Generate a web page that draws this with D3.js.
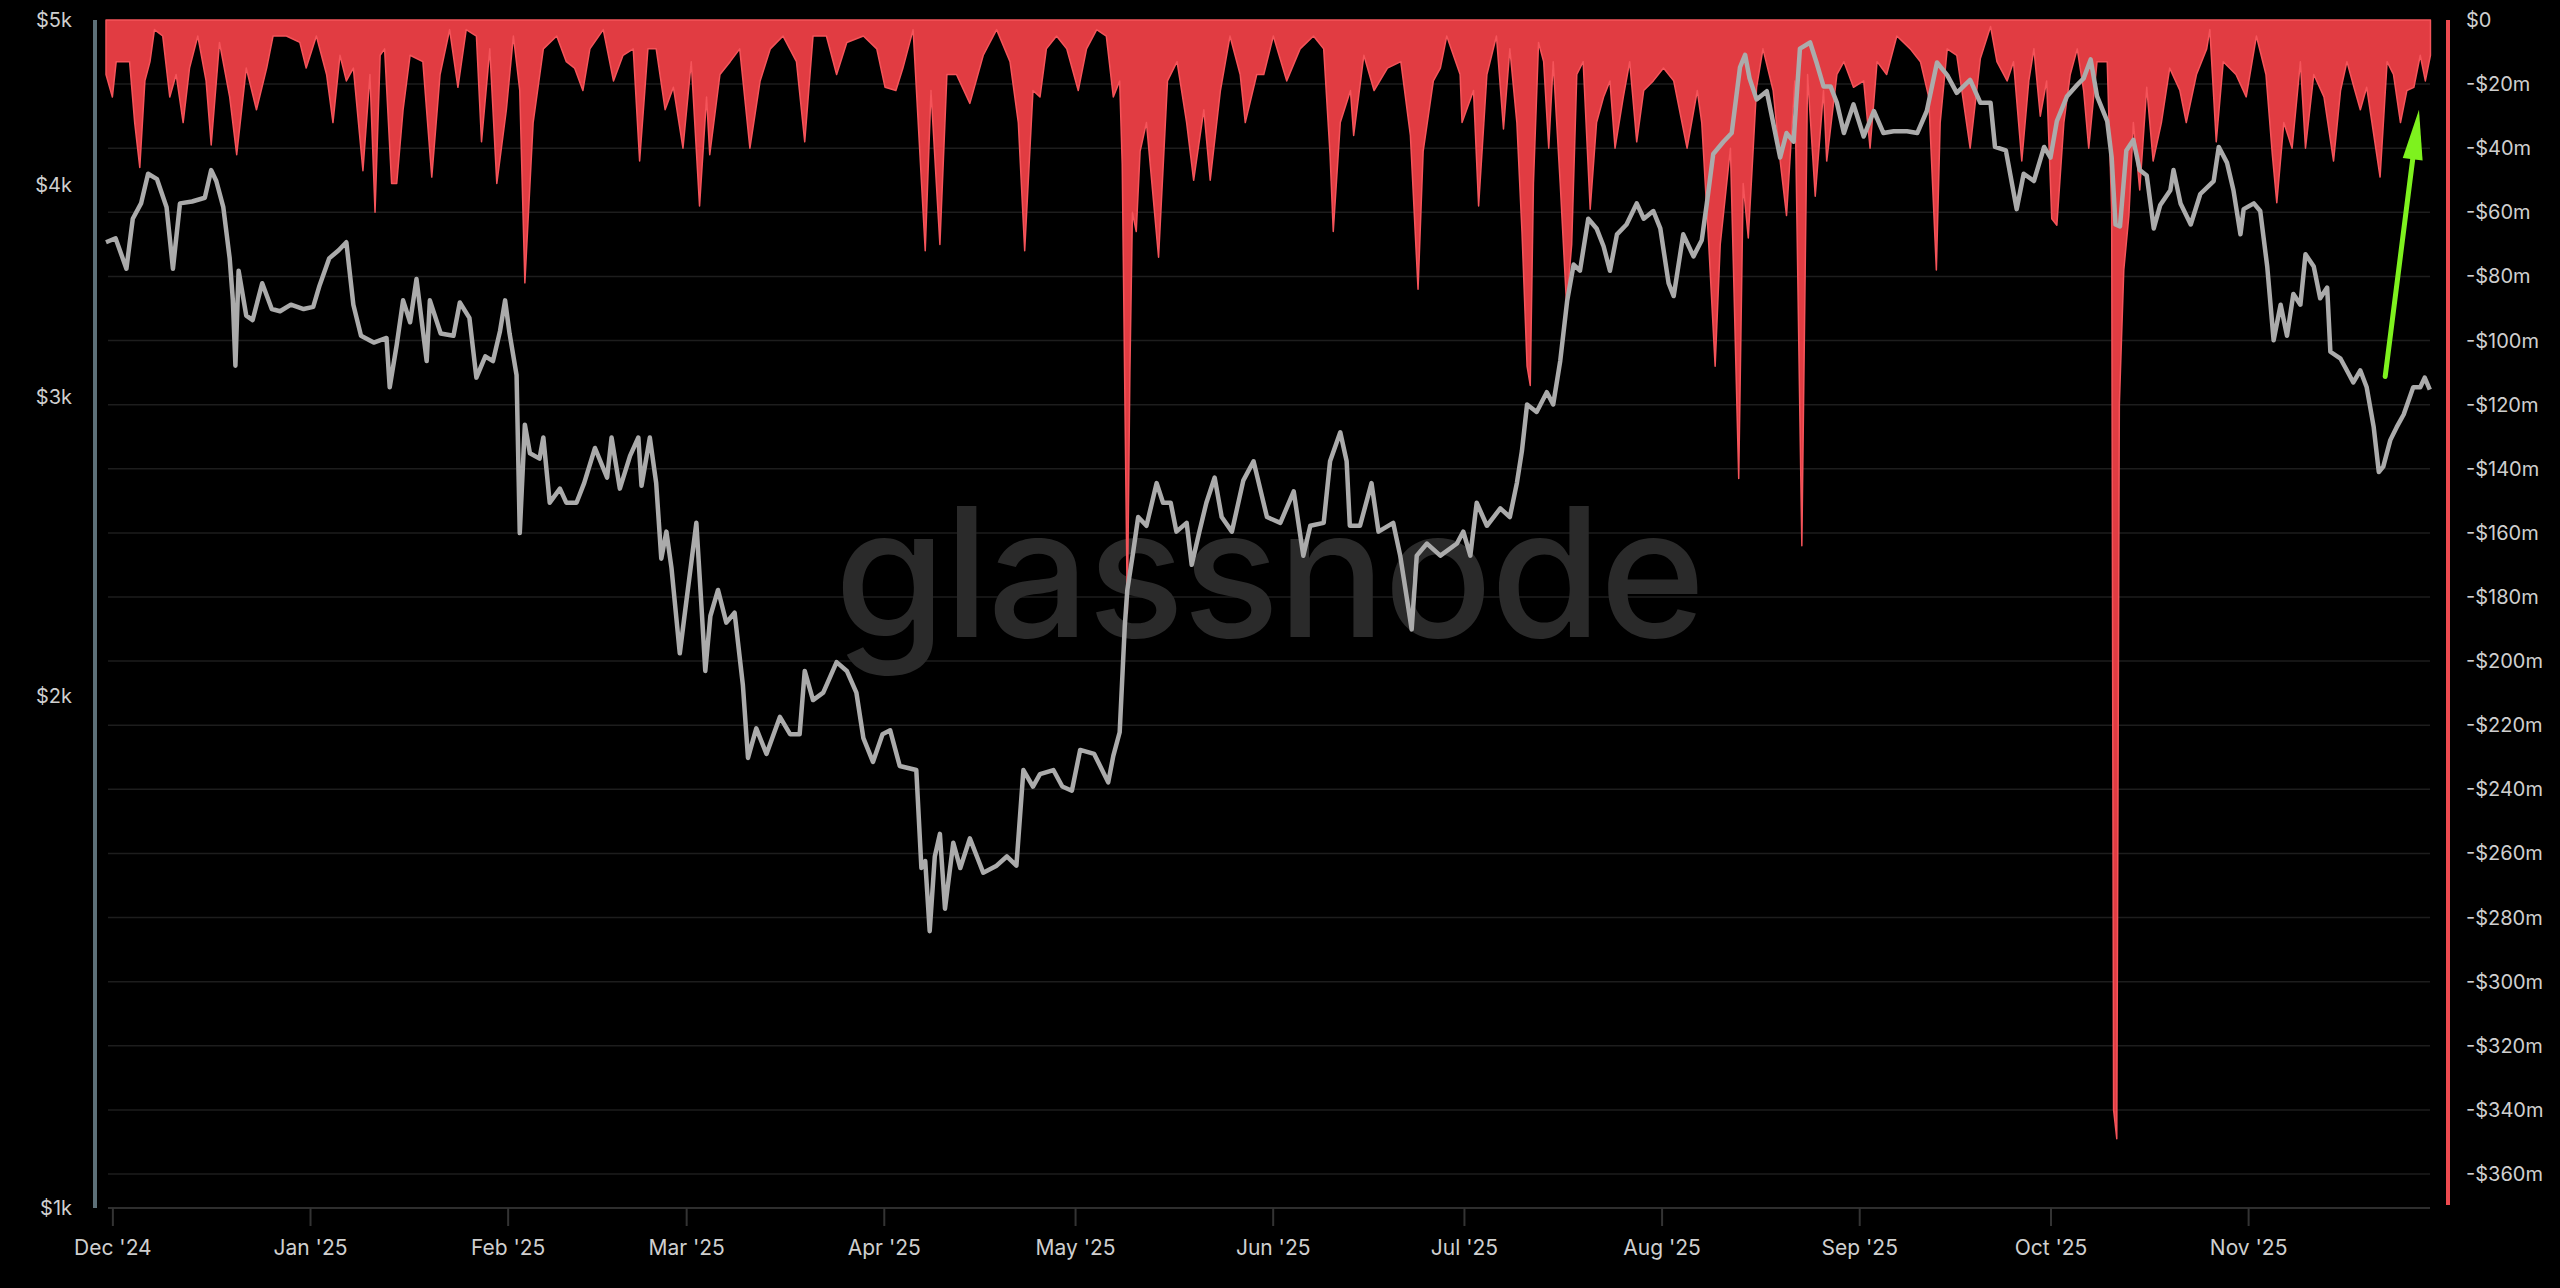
<!DOCTYPE html>
<html>
<head>
<meta charset="utf-8">
<script src="https://cdn.jsdelivr.net/npm/d3@7"></script>
<style>
  html, body { margin: 0; padding: 0; background: #000; }
  svg { display: block; }
  .lbl { font-family: Inter, "Noto Sans", sans-serif; font-size: 20px; fill: #cfcfcf; }
  .x.axis text { font-family: Inter, "Noto Sans", sans-serif; font-size: 21px; fill: #cfcfcf; }
  .x.axis line { stroke: #333; stroke-width: 2; }
</style>
</head>
<body>
<div id="chart"></div>
<script>
// day offsets are counted from 2024-11-30 (UTC)
var startDate = Date.UTC(2024, 10, 30);

// ETH price, USD  [day, value]
var priceData = [
  [0,3700],[1.5,3720],[3.2,3570],[4.2,3820],[5.5,3900],[6.6,4060],[8,4030],[9.5,3880],[10.5,3570],[11.6,3900],
  [13.5,3910],[15.5,3930],[16.5,4080],[17.3,4020],[18.4,3880],[19.4,3620],[19.9,3420],[20.3,3130],[20.8,3560],[22,3350],
  [23,3330],[24.5,3500],[26,3380],[27.3,3370],[29,3400],[31,3380],[32.5,3390],[33.5,3490],[35,3620],[36.5,3660],
  [37.7,3700],[38.8,3400],[40,3260],[42,3230],[44,3250],[44.5,3040],[45.6,3220],[46.6,3420],[47.7,3320],[48.7,3520],
  [50.3,3150],[50.8,3420],[52.5,3270],[54.5,3260],[55.5,3410],[57,3340],[58.1,3080],[59.5,3170],[60.7,3150],[61.8,3280],
  [62.6,3420],[63.3,3270],[64.4,3090],[64.9,2495],[65.7,2890],[66.5,2780],[68,2760],[68.6,2840],[69.6,2600],[71.2,2650],
  [72.2,2600],[73.8,2600],[75,2670],[76.7,2800],[78.6,2690],[79.3,2840],[80.6,2650],[82.2,2770],[83.5,2840],[84,2660],
  [85.3,2840],[86.3,2670],[87.1,2410],[87.9,2500],[88.7,2380],[90,2120],[91,2270],[92.6,2530],[93.4,2260],[94,2070],
  [94.8,2230],[96,2310],[97.3,2210],[98.6,2240],[99.9,2030],[100.7,1840],[102,1915],[103.6,1850],[105.7,1945],[107.3,1900],
  [108.8,1900],[109.6,2070],[110.9,1990],[112.5,2010],[114.6,2095],[116.2,2070],[117.7,2010],[118.8,1890],[120.3,1830],[121.8,1900],
  [123,1910],[124.5,1820],[127.1,1810],[127.9,1585],[128.5,1600],[129.2,1455],[130,1610],[130.8,1660],[131.6,1500],[132.9,1640],
  [134,1585],[135.5,1650],[137.6,1575],[139.7,1590],[141.3,1610],[142.8,1590],[143.9,1810],[145.4,1770],[146.5,1800],[148.6,1810],
  [150,1770],[151.5,1760],[152.8,1860],[155,1850],[157.2,1780],[158,1845],[159,1905],[159.8,2200],[160.2,2310],[161.1,2430],
  [161.9,2550],[163.2,2520],[164.8,2670],[165.8,2600],[167,2600],[167.9,2500],[169.5,2530],[170.3,2390],[171.5,2500],[172.6,2600],
  [173.9,2690],[175,2550],[176.6,2500],[178.4,2680],[180,2750],[182.1,2550],[184.2,2530],[186.3,2640],[187.8,2420],[188.9,2520],
  [191,2530],[192,2750],[193.6,2860],[194.6,2750],[195.1,2520],[196.7,2520],[198.5,2670],[199.6,2500],[201.9,2530],[203,2420],
  [204,2290],[204.8,2190],[205.6,2420],[207.2,2460],[209.3,2420],[211.9,2460],[212.9,2500],[214,2420],[215,2600],[216.6,2520],
  [218.7,2580],[220.2,2550],[221.3,2670],[222.1,2790],[222.9,2970],[224.4,2940],[226,3020],[227,2970],[228.1,3150],[229.2,3420],
  [230.2,3590],[231.2,3560],[232.5,3820],[233.8,3770],[234.9,3680],[235.9,3560],[237,3740],[238.5,3790],[240.1,3900],[241.2,3820],
  [242.7,3860],[243.8,3770],[245.1,3500],[245.9,3440],[247.4,3740],[249,3630],[250.3,3710],[251.1,3900],[252.1,4170],[253.7,4240],
  [255,4290],[256.3,4690],[257.1,4770],[257.8,4620],[258.9,4490],[260.5,4540],[261.5,4350],[262.6,4150],[263.6,4290],[264.7,4240],
  [265.7,4810],[267.3,4850],[268.3,4720],[269.4,4570],[270.5,4570],[271.5,4470],[272.6,4290],[274.1,4460],[275.7,4270],[277.3,4420],
  [278.8,4290],[280.4,4300],[282.5,4300],[284.1,4290],[285.6,4420],[287.2,4720],[288.8,4640],[290.3,4530],[292.4,4610],[294,4470],
  [295.6,4470],[296.3,4210],[298,4190],[299.7,3870],[300.8,4060],[302.4,4020],[304,4210],[305,4150],[306,4360],[307.6,4510],
  [309.2,4580],[310.2,4620],[311.3,4740],[312.3,4510],[313.9,4360],[314.6,4150],[315.2,3790],[315.9,3780],[316.9,4190],[318,4250],
  [319,4080],[320.1,4050],[321.2,3770],[322.2,3890],[323.8,3970],[324.3,4080],[325.4,3900],[327,3790],[328.5,3950],[330.6,4020],
  [331.4,4210],[332.7,4120],[333.7,3970],[334.8,3740],[335.3,3870],[336.9,3900],[337.9,3860],[339,3580],[340,3240],[341.1,3400],
  [342.1,3260],[343.1,3450],[344.2,3400],[345,3640],[346.3,3580],[347.3,3430],[348.4,3480],[348.9,3190],[350.5,3160],[351.5,3110],
  [352.5,3060],[353.6,3110],[354.6,3040],[355.7,2880],[356.5,2710],[357.2,2730],[358.3,2830],[359.3,2880],[360.4,2930],[361.9,3040],
  [363,3040],[363.7,3080],[364.5,3030]
];

// realized loss, USD millions  [day, value]
var lossData = [
  [0,-17],[1,-24],[1.6,-13],[2.7,-13],[3.7,-13],[4.5,-32],[5.3,-46],[6.1,-19],[6.9,-13],[7.6,-3],
  [8.9,-5],[10,-24],[11,-17],[12.1,-32],[13.1,-15],[14.4,-5],[15.7,-19],[16.5,-39],[17.8,-7],[19.4,-24],
  [20.5,-42],[22,-15],[23.6,-28],[25.2,-15],[26.2,-5],[28.3,-5],[30.4,-7],[31.4,-15],[33,-5],[34.6,-17],
  [35.6,-32],[36.7,-11],[37.7,-19],[38.8,-15],[40.3,-47],[41.4,-17],[42.2,-60],[43,-11],[43.7,-9],[44.8,-51],
  [45.6,-51],[46.6,-28],[47.7,-11],[49.7,-13],[51.1,-49],[52.4,-17],[53.9,-3],[55.2,-21],[56.5,-3],[58.1,-5],
  [58.9,-38],[60.2,-9],[61.3,-51],[62.8,-28],[63.9,-5],[64.9,-22],[65.7,-82],[67,-32],[68.6,-9],[70.7,-5],
  [72.2,-13],[73.5,-15],[74.8,-22],[75.9,-9],[78,-3],[79.6,-19],[81.1,-11],[82.7,-9],[83.7,-44],[85,-9],
  [86.3,-9],[87.7,-28],[89,-21],[90.5,-40],[91.8,-13],[93.1,-58],[94.2,-24],[94.7,-42],[96.3,-17],[97.9,-13],
  [99.4,-9],[101,-40],[102.6,-19],[104.2,-9],[106.2,-5],[108.3,-13],[109.6,-38],[110.9,-5],[113,-5],[114.6,-17],
  [116.2,-7],[118.8,-5],[120.9,-9],[122.2,-21],[123.9,-22],[125,-15],[126.6,-3],[128.5,-72],[129.4,-22],[130.8,-70],
  [131.9,-17],[133.4,-17],[135.5,-26],[137.6,-11],[139.7,-3],[141.8,-13],[143.1,-32],[144.1,-72],[145.4,-22],[146.5,-24],
  [147.5,-9],[149.1,-5],[150.7,-9],[152.5,-22],[153.8,-9],[155.4,-3],[156.9,-5],[158,-24],[159,-19],[159.4,-45],
  [159.8,-115],[160.2,-185],[160.6,-110],[161,-60],[161.6,-66],[162.2,-41],[163.2,-32],[165.1,-74],[166.5,-19],[168,-13],
  [169.5,-32],[170.6,-50],[172.2,-28],[173.2,-50],[174.8,-22],[176.3,-5],[177.9,-17],[178.7,-32],[180.5,-17],[181.6,-17],
  [183.1,-5],[185.2,-19],[187.3,-9],[189.4,-5],[191,-9],[192,-42],[192.5,-66],[193.6,-32],[195.2,-22],[195.7,-36],
  [197.3,-11],[198.9,-22],[201,-15],[203.1,-13],[204.6,-36],[205.8,-84],[206.6,-41],[208.2,-19],[209.3,-15],[210.3,-5],
  [212.4,-17],[212.7,-32],[214.5,-22],[215.3,-58],[216.6,-17],[218.1,-5],[219.2,-34],[220.2,-9],[221.3,-32],[222.1,-66],
  [222.9,-108],[223.4,-114],[223.9,-51],[224.7,-7],[225.5,-13],[226.3,-40],[227,-13],[228.1,-51],[229.1,-89],[229.9,-70],
  [230.7,-17],[231.7,-13],[232.8,-59],[233.8,-32],[234.9,-24],[235.9,-19],[236.7,-40],[238,-24],[239,-13],[240.1,-38],
  [241.2,-22],[242.7,-19],[244.3,-15],[245.9,-19],[248,-40],[249.6,-22],[250.3,-32],[251.4,-70],[252.4,-108],[253.2,-70],
  [254.8,-40],[256.1,-143],[256.8,-51],[257.6,-68],[258.9,-21],[259.9,-9],[261.5,-22],[262.6,-44],[263.6,-61],[264.9,-19],
  [266,-164],[266.9,-17],[268.1,-55],[269.4,-22],[269.9,-44],[271.5,-17],[272.6,-13],[274.1,-21],[275.7,-19],[276.7,-40],
  [277.8,-13],[279.3,-17],[280.9,-5],[283,-9],[284.6,-13],[285.9,-24],[287.1,-78],[287.7,-32],[288.8,-9],[290.3,-11],
  [292.4,-40],[294,-12],[295.6,-2],[296.6,-13],[298.2,-19],[299.2,-13],[300.5,-44],[301.6,-19],[302.4,-9],[303.4,-30],
  [304.4,-19],[305.2,-62],[306,-64],[307.1,-32],[308.1,-17],[309.2,-9],[310.2,-22],[311,-40],[312.3,-13],[313.9,-13],
  [314.6,-60],[314.9,-340],[315.4,-349],[315.8,-120],[316.5,-78],[317.3,-61],[318,-32],[319,-53],[320.1,-21],[321.1,-44],
  [322.4,-32],[323.7,-15],[325.3,-22],[326.3,-32],[327.9,-17],[329.5,-9],[330,-3],[331,-38],[332.1,-13],[334.1,-17],
  [335.7,-24],[337.3,-5],[338.8,-17],[339.8,-42],[340.5,-57],[341.6,-32],[342.9,-40],[344.2,-13],[345,-40],[346.3,-17],
  [347.9,-24],[349.4,-44],[350.5,-22],[351.5,-13],[352.6,-21],[353.6,-28],[354.6,-21],[356.7,-49],[357.8,-13],[358.8,-17],
  [359.9,-32],[360.9,-22],[362,-21],[363,-11],[363.8,-19],[364.6,-11]
];

var priceTicks = [1000, 2000, 3000, 4000, 5000];
var lossTicks = [0, -20, -40, -60, -80, -100, -120, -140, -160, -180, -200, -220, -240, -260, -280, -300, -320, -340, -360];

// annotation arrow: from a price point up to a loss level
var arrowFrom = {day: 357.5, price: 3085};
var arrowTo = {day: 362.8, loss: -28};

var width = 2560, height = 1288;
var margin = {top: 20, right: 127, bottom: 80, left: 106};
var chartW = width - margin.left - margin.right;
var chartH = height - margin.top - margin.bottom;
var DAY = 864e5;

function toDate(d) { return new Date(startDate + d * DAY); }

var xScale = d3.scaleUtc()
  .domain([toDate(0), toDate(365)])
  .range([0, chartW]);

var yPrice = d3.scaleLog()
  .domain([1000, 5000])
  .range([chartH, 0]);

var yLoss = d3.scaleLinear()
  .domain([-370.6, 0])
  .range([chartH, 0]);

var svg = d3.select("#chart").append("svg")
  .attr("width", width)
  .attr("height", height)
  .style("background", "#000");

var container = svg.append("g")
  .attr("transform", "translate(" + margin.left + "," + margin.top + ")");

// horizontal grid, following the right-hand axis
container.append("g").attr("class", "grid")
  .selectAll("line")
  .data(lossTicks.filter(function(v) { return v !== 0; }))
  .enter().append("line")
    .attr("x1", 2).attr("x2", chartW - 3)
    .attr("y1", function(d) { return yLoss(d); })
    .attr("y2", function(d) { return yLoss(d); })
    .attr("stroke", "#1d1d1d")
    .attr("stroke-width", 1.5);

container.append("line")
  .attr("x1", 2).attr("x2", chartW - 3)
  .attr("y1", chartH).attr("y2", chartH)
  .attr("stroke", "#2e2e2e")
  .attr("stroke-width", 2);

// watermark
container.append("text")
  .attr("x", 1163)
  .attr("y", 617)
  .attr("text-anchor", "middle")
  .style("font-family", "Inter, 'Noto Sans', sans-serif")
  .style("font-size", "180px")
  .style("font-weight", 500)
  .style("letter-spacing", "-2px")
  .attr("fill", "#2a2a2a")
  .text("glassnode");

// loss area hanging from zero
var area = d3.area()
  .x(function(d) { return xScale(toDate(d[0])); })
  .y0(yLoss(0))
  .y1(function(d) { return yLoss(d[1]); });

container.append("path")
  .datum(lossData)
  .attr("d", area)
  .attr("fill", "#e13c42")
  .attr("stroke", "#f5545a")
  .attr("stroke-width", 1.5)
  .attr("stroke-linejoin", "round");

// price line
var line = d3.line()
  .x(function(d) { return xScale(toDate(d[0])); })
  .y(function(d) { return yPrice(d[1]); });

container.append("path")
  .datum(priceData)
  .attr("d", line)
  .attr("fill", "none")
  .attr("stroke", "#ababab")
  .attr("stroke-width", 4.5)
  .attr("stroke-linejoin", "round");

// left axis
container.append("line")
  .attr("x1", -11).attr("x2", -11)
  .attr("y1", 0).attr("y2", chartH)
  .attr("stroke", "#5d7078")
  .attr("stroke-width", 4);

container.append("g").selectAll("text")
  .data(priceTicks)
  .enter().append("text")
    .attr("class", "lbl")
    .attr("x", -34)
    .attr("y", function(d) { return yPrice(d); })
    .attr("dy", "0.35em")
    .attr("text-anchor", "end")
    .text(function(d) { return "$" + (d / 1000) + "k"; });

// right axis
container.append("line")
  .attr("x1", 2342).attr("x2", 2342)
  .attr("y1", 0).attr("y2", chartH - 3)
  .attr("stroke", "#ee4a4f")
  .attr("stroke-width", 4);

container.append("g").selectAll("text")
  .data(lossTicks)
  .enter().append("text")
    .attr("class", "lbl")
    .attr("x", 2360)
    .attr("y", function(d) { return yLoss(d); })
    .attr("dy", "0.35em")
    .text(function(d) { return d === 0 ? "$0" : "-$" + Math.abs(d) + "m"; });

// bottom axis
var xAxis = d3.axisBottom(xScale)
  .ticks(d3.utcMonth.every(1))
  .tickFormat(d3.utcFormat("%b '%y"))
  .tickSize(18)
  .tickPadding(14);

container.append("g")
  .attr("class", "x axis")
  .attr("transform", "translate(0," + chartH + ")")
  .call(xAxis)
  .call(function(g) { g.select(".domain").remove(); });

// green arrow
var ax0 = xScale(toDate(arrowFrom.day)), ay0 = yPrice(arrowFrom.price);
var ax1 = xScale(toDate(arrowTo.day)), ay1 = yLoss(arrowTo.loss);
var len = Math.hypot(ax1 - ax0, ay1 - ay0);
var ux = (ax1 - ax0) / len, uy = (ay1 - ay0) / len;
var headLen = 50, headHalf = 10;
var bx = ax1 - ux * headLen, by = ay1 - uy * headLen;

container.append("line")
  .attr("x1", ax0).attr("y1", ay0)
  .attr("x2", bx + ux * 4).attr("y2", by + uy * 4)
  .attr("stroke", "#7ef21e")
  .attr("stroke-width", 5)
  .attr("stroke-linecap", "round");

container.append("path")
  .attr("d", "M" + ax1 + "," + ay1 +
    "L" + (bx - uy * headHalf) + "," + (by + ux * headHalf) +
    "L" + (bx + uy * headHalf) + "," + (by - ux * headHalf) + "Z")
  .attr("fill", "#7ef21e");
</script>
</body>
</html>
